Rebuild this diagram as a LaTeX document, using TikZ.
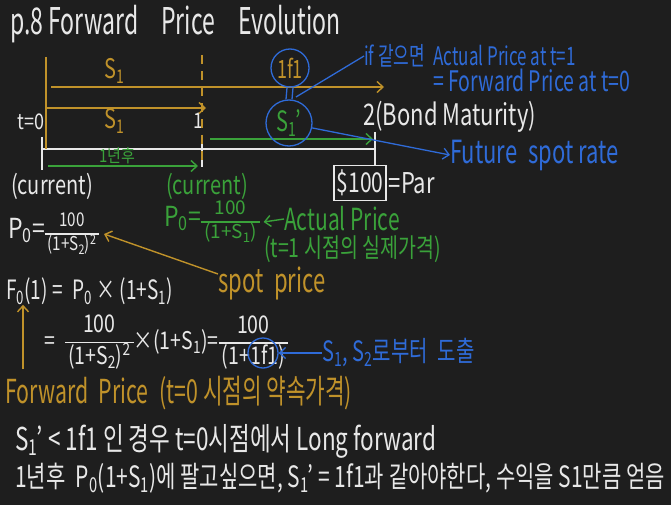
\documentclass[tikz,border=0pt]{standalone}
\usepackage{fontspec}
\setmainfont{Noto Sans CJK KR}
\usepackage{graphicx}
\usepackage{tikz}
\usetikzlibrary{arrows.meta, positioning, calc}

\definecolor{boardbg}{HTML}{1E1E1E}
\definecolor{inkwhite}{HTML}{E8E8E8}
\definecolor{inkgold}{HTML}{C0922A}
\definecolor{inkgreen}{HTML}{3AA23A}
\definecolor{inkblue}{HTML}{2F6BD8}
\newcommand{\hwsize}[1]{\fontsize{#1}{#1}\selectfont}
\newcommand{\tall}[2][1.45]{\scalebox{1}[#1]{#2}}
\newcommand{\narrow}[2][0.8]{\scalebox{#1}[1]{#2}}
\newcommand{\lo}[1]{\textsubscript{#1}}
\newcommand{\hi}[1]{\textsuperscript{#1}}
\newcommand{\hfrac}[2]{{\setlength{\arrayrulewidth}{1.1pt}\renewcommand{\arraystretch}{1.2}%
    \begin{tabular}[c]{@{\,}c@{\,}}#1\\\hline #2\end{tabular}}}

\begin{document}
\begin{tikzpicture}[
    x=1pt, y=-1pt,
    note/.style={inner sep=0pt, anchor=west, font=\hwsize{18}},
    wnote/.style={note, text=inkwhite},
    gnote/.style={note, text=inkgold},
    grnote/.style={note, text=inkgreen},
    bnote/.style={note, text=inkblue},
    wline/.style={draw=inkwhite, line width=1.4pt},
    gline/.style={draw=inkgold, line width=1.4pt},
    bline/.style={draw=inkblue, line width=1.3pt},
    garrow/.style={gline, -{Straight Barb[length=6pt, width=11pt]}},
    grarrow/.style={draw=inkgreen, line width=1.4pt, -{Straight Barb[length=6pt, width=11pt]}},
    barrow/.style={bline, -{Straight Barb[length=6pt, width=11pt]}},
    ring/.style={circle, draw=inkblue, line width=1.3pt, inner sep=0pt}
]
\useasboundingbox (0,0) rectangle (671,505);
\fill[boardbg] (0,0) rectangle (671,505);

% title
\node[wnote, font=\hwsize{23}] (title) at (10,24) {\tall[1.6]{p.8 Forward\quad Price\quad Evolution}};

% time line
\coordinate (t0) at (42,149);
\coordinate (t1) at (202,149);
\coordinate (t2) at (375,149);
\node[draw=inkwhite, line width=1.2pt, text=inkwhite, font=\hwsize{21},
    minimum width=52pt, minimum height=35pt, inner sep=0pt] (par) at (360,183) {\tall[1.3]{\$100}};
\node[wnote, font=\hwsize{22}, right=2pt of par] (parlbl) {\tall[1.3]{=Par}};
\draw[wline] (t0) -- (t2);
\draw[wline] ([yshift=12pt]t0) -- ([yshift=-21pt]t0);
\draw[wline] ([yshift=14pt]t1) -- ([yshift=-18pt]t1);
\draw[wline] ([yshift=17pt]t2) -- (t2 |- par.north);
\node[wnote, anchor=center] (lbl0) at (31,122) {\tall[1.2]{t=0}};
\node[wnote, anchor=center] (lbl1) at (198,121) {\tall[1.2]{1}};
\node[wnote, font=\hwsize{22}] (lbl2) at (363,117) {\tall[1.35]{2(Bond Maturity)}};

% spot rate arrows (gold)
\coordinate (g0) at (46,57);
\draw[gline] (g0) -- (g0 |- t0);
\draw[gline, dashed, dash pattern=on 9pt off 7pt] (202,55) -- (202,162);
\coordinate (s2a) at (51,87);
\coordinate (s2b) at (384,87);
\draw[garrow] (s2a) -- (s2b);
\node[gnote, anchor=center, font=\hwsize{20}] (s2lbl) at (115,71) {\tall[1.35]{S\lo{1}}};
\coordinate (s1a) at (46,108);
\coordinate (s1b) at (206,108);
\draw[garrow] (s1a) -- (s1b);
\node[gnote, anchor=center, font=\hwsize{20}] (s1lbl) at (115,121) {\tall[1.35]{S\lo{1}}};

% one year later (green)
\coordinate (y1a) at (210,139);
\coordinate (y1b) at (373,139);
\draw[grarrow] (y1a) -- (y1b);
\coordinate (y0a) at (48,166);
\coordinate (y0b) at (198,166);
\draw[grarrow] (y0a) -- (y0b);
\node[grnote, anchor=center, font=\hwsize{15}] (yearlbl) at (117,156) {\tall[1.2]{1년후}};

% circled rates
\node[ring, minimum size=38pt, text=inkgold, font=\hwsize{18}] (fwdring) at (290,68) {\tall[1.4]{1f1}};
\node[ring, minimum size=46pt, text=inkgreen, font=\hwsize{20}] (spotring) at (289,123) {\tall[1.4]{S\lo{1}\kern-1pt'}};
\draw[bline] ([xshift=-3pt]fwdring.south) -- ([xshift=-3pt]spotring.north);
\draw[bline] ([xshift=3pt]fwdring.south) -- ([xshift=3pt]spotring.north);
\coordinate (eqmark) at (296,97);
\node[bnote, font=\hwsize{17}] (ifnote) at (364,56) {\tall[1.5]{if 같으면\enspace Actual Price at t=1}};
\node[bnote, font=\hwsize{19.5}] (eqnote) at (433,80) {\tall[1.45]{= Forward Price at t=0}};
\draw[bline] (ifnote.west) -- (eqmark);
\node[bnote, font=\hwsize{22}] (fsr) at (450,155) {\tall[1.45]{Future\enspace spot rate}};
\draw[barrow] (spotring.-12) -- (fsr.west);

% current labels
\node[wnote, anchor=center, font=\hwsize{20}] (cur0) at (52,186) {\tall[1.3]{(current)}};
\node[grnote, anchor=center, font=\hwsize{20}] (cur1) at (207,186) {\tall[1.3]{(current)}};

% actual price at t=1 (green)
\node[grnote, font=\hwsize{19}] (p0g) at (164,222)
    {\tall[1.2]{\hwsize{23}P\lo{0}=}\hfrac{100}{(1+S\lo{1})}};
\node[grnote, font=\hwsize{21}] (actual) at (284,219) {\tall[1.45]{Actual Price}};
\draw[grarrow] (actual.west) -- ([xshift=3pt]p0g.east);
\node[grnote, font=\hwsize{19.5}] (actualkr) at (264,249) {\tall[1.35]{(t=1 시점의 실제가격)}};

% spot price (white)
\node[wnote, font=\hwsize{19}] (p0w) at (8,234)
    {\tall[1.2]{\hwsize{23}P\lo{0}=}\narrow{\hfrac{100}{(1+S\lo{2})\hi{2}}}};
\node[gnote, font=\hwsize{22}] (spot) at (218,283) {\tall[1.5]{spot\enspace price}};
\draw[garrow] ([yshift=9pt]spot.west) -- ([xshift=5pt]p0w.east);

% forward price
\node[wnote, font=\hwsize{19}] (f0) at (6,291) {\tall[1.4]{F\lo{0}(1) =\enspace P\lo{0} × (1+S\lo{1})}};
\node[wnote, font=\hwsize{19.5}] (f0calc) at (44,343)
    {\tall[1.25]{=\enspace\hfrac{100}{(1+S\lo{2})\hi{2}}×(1+S\lo{1})=\hfrac{100}{(1+1f1)}}};
\node[ring, minimum size=30pt] (fring) at (263,353) {};
\node[bnote, font=\hwsize{20}] (derive) at (322,353) {\tall[1.4]{S\lo{1}, S\lo{2}로부터\enspace 도출}};
\draw[barrow] (derive.west) -- (fring.east);
\node[gnote, font=\hwsize{21.3}] (fwdlbl) at (5,393) {\tall[1.55]{Forward\enspace Price\enspace (t=0 시점의 약속가격)}};
\coordinate (fup) at (23,369);
\draw[garrow] (fup) -- (fup |- f0.south);

% conclusions
\node[wnote, font=\hwsize{22.5}] (concl1) at (15,441) {\tall[1.4]{S\lo{1}\kern-1pt' < 1f1 인 경우 t=0시점에서 Long forward}};
\node[wnote, font=\hwsize{21}] (concl2) at (15,478) {\tall[1.4]{1년후\enspace P\lo{0}(1+S\lo{1})에 팔고싶으면, S\lo{1}\kern-1pt' = 1f1과 같아야한다, 수익을 S1만큼 얻음}};
\end{tikzpicture}
\end{document}
